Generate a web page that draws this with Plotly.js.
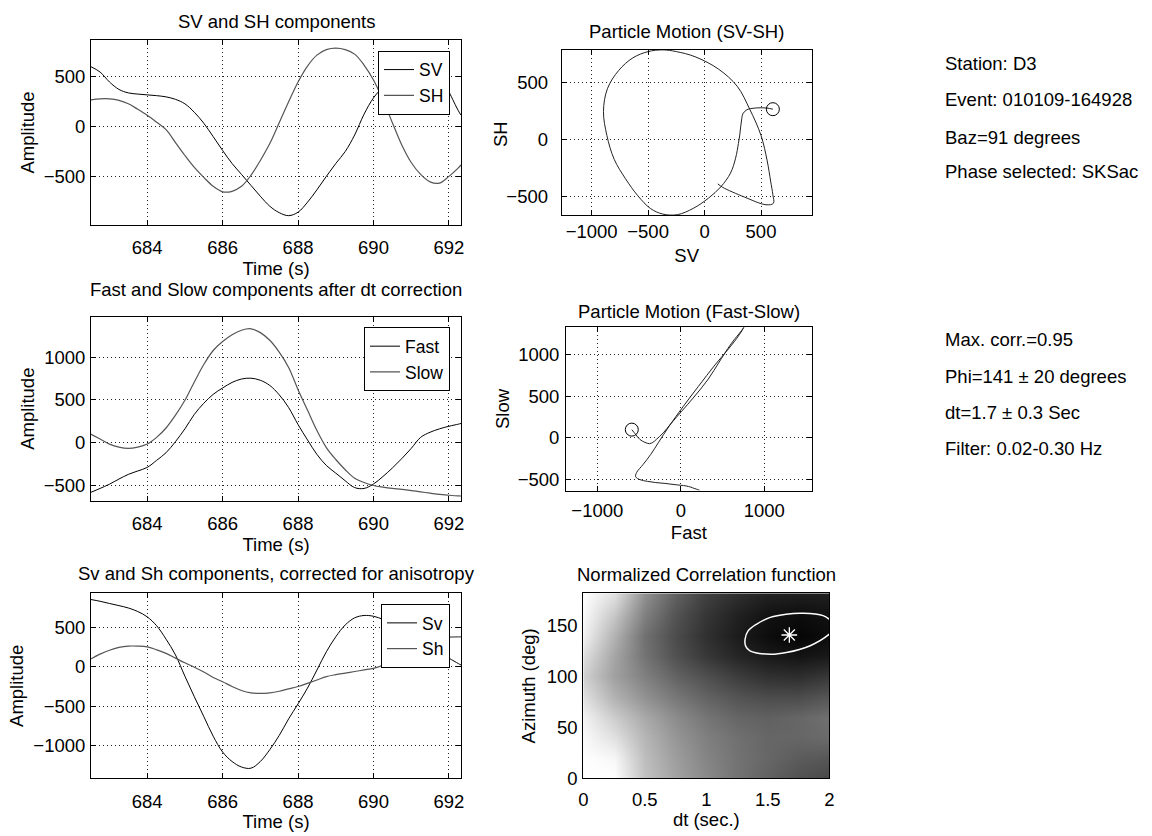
<!DOCTYPE html>
<html>
<head>
<meta charset="utf-8">
<script src="https://cdn.plot.ly/plotly-3.0.1.min.js"></script>
<style>html,body{margin:0;padding:0;background:#fff}#plot{width:1152px;height:836px}</style>
</head>
<body>
<div id="plot"></div>
<script>
// ---- data ----
const time = [682.5, 682.75, 683, 683.25, 683.5, 683.75, 684, 684.25, 684.5, 684.75, 685, 685.25, 685.5, 685.75, 686, 686.25, 686.5, 686.75, 687, 687.25, 687.5, 687.75, 688, 688.25, 688.5, 688.75, 689, 689.25, 689.5, 689.75, 690, 690.25, 690.5, 690.75, 691, 691.25, 691.5, 691.75, 692, 692.25, 692.32];

const SV = [605, 550, 450, 375, 340, 328, 320, 312, 300, 275, 230, 145, 35, -100, -240, -370, -480, -590, -700, -800, -865, -895, -860, -760, -635, -500, -370, -250, -84, 126, 290, 400, 500, 555, 585, 605, 610, 545, 352, 160, 117];
const SH = [270, 280, 280, 265, 230, 175, 115, 45, -30, -160, -290, -410, -510, -600, -655, -650, -600, -490, -340, -170, 40, 250, 450, 610, 720, 775, 790, 775, 730, 620, 470, 270, 40, -184, -360, -480, -555, -568, -500, -415, -385];

const Fast = [-587, -540, -490, -430, -375, -335, -293, -210, -120, 10, 160, 330, 460, 565, 640, 705, 745, 755, 730, 670, 560, 410, 210, 30, -140, -270, -360, -450, -530, -540, -488, -400, -300, -190, -70, 60, 120, 160, 190, 215, 223];
const Slow = [99, 40, -19, -55, -70, -55, -19, 60, 170, 320, 495, 710, 915, 1080, 1185, 1265, 1318, 1335, 1290, 1200, 1060, 880, 620, 380, 140, -60, -200, -320, -420, -470, -505, -525, -540, -550, -565, -580, -595, -610, -620, -628, -629];

const Sv = [853, 830, 802, 775, 745, 700, 633, 520, 350, 150, -120, -380, -630, -880, -1080, -1200, -1270, -1285, -1200, -1050, -870, -660, -470, -270, -42, 190, 380, 530, 620, 650, 640, 600, 540, 470, 400, 330, 260, 180, 110, 40, 22];
const Sh = [97, 160, 210, 245, 262, 262, 253, 215, 170, 110, 50, -5, -65, -135, -190, -250, -300, -330, -337, -330, -310, -280, -250, -210, -168, -125, -100, -80, -60, -40, -20, 20, 75, 130, 190, 250, 300, 345, 375, 380, 378];

// correlation map (darkness = normalized correlation), rows = azimuth, cols = dt
const dtGrid = [0, 0.25, 0.5, 0.75, 1, 1.25, 1.5, 1.75, 2];
const azGrid = [0, 20, 40, 60, 80, 100, 120, 140, 160, 180];
const corr = [
  [0.00, 0.00, 0.24, 0.36, 0.46, 0.55, 0.62, 0.68, 0.72],
  [0.00, 0.03, 0.26, 0.38, 0.48, 0.55, 0.60, 0.64, 0.66],
  [0.02, 0.12, 0.29, 0.41, 0.50, 0.56, 0.60, 0.60, 0.58],
  [0.05, 0.20, 0.34, 0.45, 0.54, 0.60, 0.62, 0.60, 0.56],
  [0.12, 0.30, 0.43, 0.53, 0.61, 0.67, 0.70, 0.70, 0.66],
  [0.18, 0.37, 0.50, 0.61, 0.69, 0.76, 0.81, 0.82, 0.78],
  [0.12, 0.35, 0.55, 0.68, 0.78, 0.85, 0.90, 0.92, 0.90],
  [0.05, 0.30, 0.56, 0.70, 0.81, 0.89, 0.95, 0.98, 0.95],
  [0.02, 0.22, 0.50, 0.67, 0.79, 0.87, 0.93, 0.95, 0.93],
  [0.00, 0.12, 0.44, 0.62, 0.75, 0.82, 0.87, 0.88, 0.88]
];
const contourDt = [1.315, 1.34, 1.41, 1.52, 1.65, 1.79, 1.95, 2.0, 2.06, 2.0, 1.84, 1.65, 1.52, 1.355, 1.32, 1.315];
const contourAz = [136.8, 145, 151.7, 158.3, 161.5, 162.3, 160, 156.6, 150, 141.8, 130.2, 123.7, 122, 125.3, 130, 136.8];
const bestDt = [1.675];
const bestPhi = [141];

const infoTop = ["Station: D3", "Event: 010109-164928", "Baz=91 degrees", "Phase selected: SKSac"];
const infoBottom = ["Max. corr.=0.95", "Phi=141 ± 20 degrees", "dt=1.7 ± 0.3 Sec", "Filter: 0.02-0.30 Hz"];

// ---- layout helpers ----
const W = 1152, H = 836;
const FONT = 'Liberation Sans, Arial, Helvetica, sans-serif';
const FS = 18.5;
const BLACK = '#000000', GRAY = '#555555';
function dx(a, b) { return [a / W, b / W]; }
function dy(top, bot) { return [1 - bot / H, 1 - top / H]; }
function ax(extra) {
  return Object.assign({
    showline: true, linecolor: '#000', linewidth: 1, mirror: 'ticks',
    ticks: 'inside', ticklen: 5, tickcolor: '#000',
    showgrid: true, gridcolor: '#222', griddash: '1px,3px', gridwidth: 1,
    zeroline: false, tickfont: { family: FONT, size: FS, color: '#000' },
    fixedrange: true, ticklabelstandoff: 6
  }, extra);
}
function ttl(text, standoff) { return { text: text, font: { family: FONT, size: FS, color: '#000' }, standoff: standoff }; }

const traces = [
  { x: time, y: SV, xaxis: 'x', yaxis: 'y', mode: 'lines', name: 'SV', line: { color: BLACK, width: 1, shape: 'spline' }, legend: 'legend' },
  { x: time, y: SH, xaxis: 'x', yaxis: 'y', mode: 'lines', name: 'SH', line: { color: GRAY, width: 1.2, shape: 'spline' }, legend: 'legend' },
  { x: time, y: Fast, xaxis: 'x2', yaxis: 'y2', mode: 'lines', name: 'Fast', line: { color: BLACK, width: 1, shape: 'spline' }, legend: 'legend2' },
  { x: time, y: Slow, xaxis: 'x2', yaxis: 'y2', mode: 'lines', name: 'Slow', line: { color: GRAY, width: 1.2, shape: 'spline' }, legend: 'legend2' },
  { x: time, y: Sv, xaxis: 'x3', yaxis: 'y3', mode: 'lines', name: 'Sv', line: { color: BLACK, width: 1, shape: 'spline' }, legend: 'legend3' },
  { x: time, y: Sh, xaxis: 'x3', yaxis: 'y3', mode: 'lines', name: 'Sh', line: { color: GRAY, width: 1.2, shape: 'spline' }, legend: 'legend3' },
  { x: SV, y: SH, xaxis: 'x4', yaxis: 'y4', mode: 'lines', showlegend: false, line: { color: '#222', width: 1, shape: 'spline' } },
  { x: [SV[0]], y: [SH[0]], xaxis: 'x4', yaxis: 'y4', mode: 'markers', showlegend: false, marker: { symbol: 'circle-open', size: 13, color: '#000', line: { width: 1, color: '#000' } } },
  { x: Fast, y: Slow, xaxis: 'x5', yaxis: 'y5', mode: 'lines', showlegend: false, line: { color: '#222', width: 1, shape: 'spline' } },
  { x: [Fast[0]], y: [Slow[0]], xaxis: 'x5', yaxis: 'y5', mode: 'markers', showlegend: false, marker: { symbol: 'circle-open', size: 13, color: '#000', line: { width: 1, color: '#000' } } },
  { type: 'heatmap', x: dtGrid, y: azGrid, z: corr, xaxis: 'x6', yaxis: 'y6', zmin: 0, zmax: 1, zsmooth: 'best', showscale: false,
    colorscale: [[0, '#ffffff'], [1, '#000000']], hoverinfo: 'skip' },
  { x: contourDt, y: contourAz, xaxis: 'x6', yaxis: 'y6', mode: 'lines', showlegend: false, line: { color: '#ffffff', width: 1.5, shape: 'spline', smoothing: 1 } },
  { x: bestDt, y: bestPhi, xaxis: 'x6', yaxis: 'y6', mode: 'markers', showlegend: false, marker: { symbol: 'asterisk-open', size: 13, color: '#ffffff', line: { width: 1.3, color: '#ffffff' } } }
];

function legendAt(rightPx, topPx) {
  return { x: rightPx / W, y: 1 - topPx / H, xanchor: 'right', yanchor: 'top', bgcolor: '#ffffff', bordercolor: '#000', borderwidth: 1,
    font: { family: FONT, size: 17.5, color: '#000' }, itemwidth: 30, tracegroupgap: 0, entrywidth: 54, entrywidthmode: 'pixels' };
}

const annotations = [];
function addText(text, cx, cy, anchor, angle) {
  annotations.push({ text: text, x: cx / W, y: 1 - cy / H, xref: 'paper', yref: 'paper', xanchor: anchor || 'center', yanchor: 'middle', showarrow: false,
    textangle: angle || 0, font: { family: FONT, size: FS, color: '#000' } });
}
addText('SV and SH components', 276, 22);
addText('Fast and Slow components after dt correction', 276, 289);
addText('Sv and Sh components, corrected for anisotropy', 276, 573.5);
addText('Particle Motion (SV-SH)', 686.7, 31.5);
addText('Particle Motion (Fast-Slow)', 688.9, 311);
addText('Normalized Correlation function', 706.3, 574.5);
addText('SH', 500, 134, 'center', -90);
const infoTopY = [63, 100, 137, 172];
const infoBotY = [339, 376, 412, 448.5];
infoTop.forEach((t, i) => addText(t, 943, infoTopY[i], 'left'));
infoBottom.forEach((t, i) => addText(t, 943, infoBotY[i], 'left'));

const layout = {
  width: W, height: H, margin: { l: 0, r: 0, t: 0, b: 0 },
  paper_bgcolor: '#ffffff', plot_bgcolor: '#ffffff', showlegend: true,
  font: { family: FONT, size: FS, color: '#000' },
  xaxis: ax({ domain: dx(91, 461), anchor: 'y', range: [682.51, 692.32], dtick: 2, tick0: 0, title: ttl('Time (s)', 3) }),
  yaxis: ax({ domain: dy(40, 225), anchor: 'x', range: [-989, 872], dtick: 500, tick0: 0, ticklabelstandoff: 1, title: ttl('Amplitude', 4) }),
  xaxis2: ax({ domain: dx(91, 461), anchor: 'y2', range: [682.51, 692.32], dtick: 2, tick0: 0, title: ttl('Time (s)', 3) }),
  yaxis2: ax({ domain: dy(316.7, 500.7), anchor: 'x2', range: [-684, 1477], dtick: 500, tick0: 0, ticklabelstandoff: 1, title: ttl('Amplitude', 4) }),
  xaxis3: ax({ domain: dx(91, 461), anchor: 'y3', range: [682.51, 692.32], dtick: 2, tick0: 0, title: ttl('Time (s)', 3) }),
  yaxis3: ax({ domain: dy(593.3, 778.3), anchor: 'x3', range: [-1413, 931], dtick: 500, tick0: 0, ticklabelstandoff: 1, title: ttl('Amplitude', 4) }),
  xaxis4: ax({ domain: dx(561.7, 811.7), anchor: 'y4', range: [-1265, 949], dtick: 500, tick0: 0, ticklabelstandoff: 0, title: ttl('SV', 7) }),
  yaxis4: ax({ domain: dy(50, 215), anchor: 'x4', range: [-658, 789], dtick: 500, tick0: 0, ticklabelstandoff: 9 }),
  xaxis5: ax({ domain: dx(566, 811.7), anchor: 'y5', range: [-1375, 1568], dtick: 1000, tick0: 0, ticklabelstandoff: 3, title: ttl('Fast', 6) }),
  yaxis5: ax({ domain: dy(327.3, 490.7), anchor: 'x5', range: [-638, 1334], dtick: 500, tick0: 0, ticklabelstandoff: 2, title: ttl('Slow', 3) }),
  xaxis6: ax({ domain: dx(583.3, 829.3), anchor: 'y6', range: [0, 2], dtick: 0.5, tick0: 0, showgrid: false, ticks: '', ticklabelstandoff: 4, title: ttl('dt (sec.)', 4) }),
  yaxis6: ax({ domain: dy(593.3, 778.3), anchor: 'x6', range: [0, 182], dtick: 50, tick0: 0, showgrid: false, ticks: '', ticklabelstandoff: 1, title: ttl('Azimuth (deg)', 6) }),
  legend: legendAt(450, 50.7),
  legend2: legendAt(450, 327.3),
  legend3: legendAt(450, 604),
  annotations: annotations
};

Plotly.newPlot('plot', traces, layout, { staticPlot: true, displayModeBar: false });
</script>
</body>
</html>
